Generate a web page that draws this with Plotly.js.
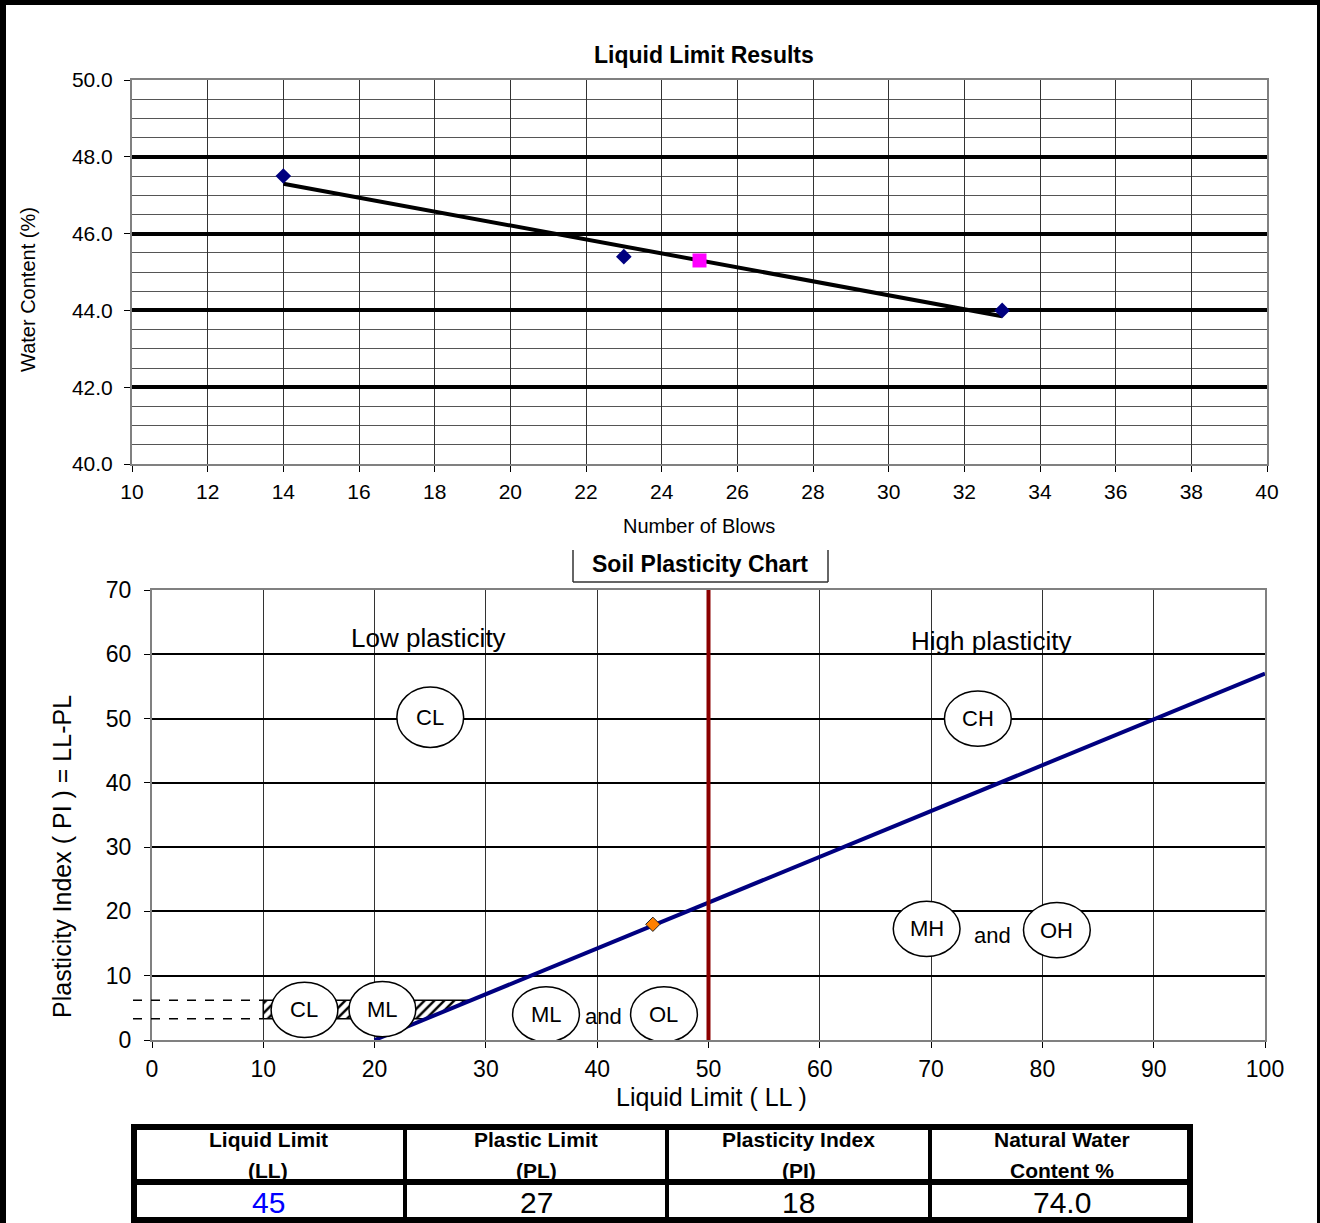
<!DOCTYPE html>
<html>
<head>
<meta charset="utf-8">
<script src="https://cdn.plot.ly/plotly-3.0.1.min.js"></script>
<style>
html,body{margin:0;padding:0;background:#fff;}
#chart{width:1320px;height:1223px;}
</style>
</head>
<body>
<div id="chart"></div>
<script>
// ---------- DATA ----------
// Liquid limit test (top chart)
const blows = [14, 23, 33];
const waterContent = [47.5, 45.4, 44.0];
const fitBlows = [14, 33];
const fitWater = [47.3, 43.85];
const blows25 = [25];
const water25 = [45.3];

// Plasticity chart (bottom chart)
const aLineLL = [20, 100];
const aLinePI = [0, 57];
const dividerLL = [50, 50];
const dividerPI = [0, 70];
const sampleLL = [45];
const samplePI = [18];
const hatchLL = [10, 10, 28.7, 24.6, 10];
const hatchPI = [3.3, 6.2, 6.2, 3.3, 3.3];
const dashPI = [3.3, 6.2];

const zoneLabels = ['CL', 'CH', 'MH', 'OH', 'ML', 'OL', 'CL', 'ML'];
const zoneLL = [25, 74.2, 69.6, 81.3, 35.4, 46.0, 13.7, 20.7];
const zonePI = [50.2, 50, 17.3, 17.1, 4.0, 4.0, 4.7, 4.8];
const andLL = [75.5, 40.6];
const andPI = [16.3, 3.7];
const regionLabels = ['Low plasticity', 'High plasticity'];
const regionLL = [24.8, 75.4];
const regionPI = [62.5, 62];

// Summary table
const tableHead1 = ['Liquid Limit', 'Plastic Limit', 'Plasticity Index', 'Natural Water'];
const tableHead2 = ['(LL)', '(PL)', '(PI)', 'Content %'];
const tableValues = ['45', '27', '18', '74.0'];

// ---------- LAYOUT HELPERS ----------
const W = 1320, H = 1223;
const fx = px => px / W;
const fy = py => 1 - py / H;
const FONT = 'Liberation Sans, Arial, sans-serif';

const traces = [
  {x: fitBlows, y: fitWater, xaxis: 'x', yaxis: 'y', mode: 'lines',
   line: {color: '#000', width: 4}, hoverinfo: 'skip'},
  {x: blows, y: waterContent, xaxis: 'x', yaxis: 'y', mode: 'markers',
   marker: {symbol: 'diamond', size: 12, color: '#000080'}},
  {x: blows25, y: water25, xaxis: 'x', yaxis: 'y', mode: 'markers',
   marker: {symbol: 'square', size: 14, color: '#FF00FF'}},
  {x: hatchLL, y: hatchPI, xaxis: 'x2', yaxis: 'y2', mode: 'lines', fill: 'toself',
   fillcolor: '#fff',
   fillpattern: {shape: '/', fgcolor: '#000', bgcolor: '#fff', size: 7, solidity: 0.35},
   line: {color: '#000', width: 1.5}, hoverinfo: 'skip'},
  {x: aLineLL, y: aLinePI, xaxis: 'x2', yaxis: 'y2', mode: 'lines',
   line: {color: '#000080', width: 4}},
  {x: dividerLL, y: dividerPI, xaxis: 'x2', yaxis: 'y2', mode: 'lines',
   line: {color: '#8B0000', width: 4}},
  {x: sampleLL, y: samplePI, xaxis: 'x2', yaxis: 'y2', mode: 'markers',
   marker: {symbol: 'diamond', size: 11, color: '#FF8000', line: {color: '#222', width: 1}}}
];

const shapes = [];
const annotations = [];
function note(o) {
  annotations.push(Object.assign({showarrow: false, xanchor: 'center', yanchor: 'middle'}, o));
}

// outer frame
shapes.push({type: 'rect', xref: 'paper', yref: 'paper', x0: 0, x1: 1, y0: fy(5), y1: fy(0), fillcolor: '#000', line: {width: 0}});
shapes.push({type: 'rect', xref: 'paper', yref: 'paper', x0: 0, x1: fx(6), y0: 0, y1: 1, fillcolor: '#000', line: {width: 0}});
shapes.push({type: 'rect', xref: 'paper', yref: 'paper', x0: fx(1317), x1: 1, y0: 0, y1: 1, fillcolor: '#000', line: {width: 0}});

// dashed guide lines (extend left of the axis)
dashPI.forEach(p => {
  shapes.push({type: 'line', xref: 'paper', yref: 'y2', x0: fx(133), x1: fx(263), y0: p, y1: p,
    line: {color: '#000', width: 1.5, dash: 'dash'}});
});

// zone ellipses + labels
zoneLabels.forEach((t, i) => {
  const ry = i === 0 ? 4.7 : 4.3;
  shapes.push({type: 'circle', xref: 'x2', yref: 'y2', layer: 'above',
    x0: zoneLL[i] - 3.0, x1: zoneLL[i] + 3.0, y0: zonePI[i] - ry, y1: zonePI[i] + ry,
    fillcolor: '#fff', line: {color: '#000', width: 1.5}});
  note({xref: 'x2', yref: 'y2', x: zoneLL[i], y: zonePI[i], text: t,
    font: {family: FONT, size: 22, color: '#000'}});
});
andLL.forEach((v, i) => note({xref: 'x2', yref: 'y2', x: v, y: andPI[i], text: 'and',
  font: {family: FONT, size: 22, color: '#000'}}));
regionLabels.forEach((t, i) => note({xref: 'x2', yref: 'y2', x: regionLL[i], y: regionPI[i],
  text: t, font: {family: FONT, size: 26, color: '#000'}}));

// titles
note({xref: 'paper', yref: 'paper', x: fx(704), y: fy(55), text: '<b>Liquid Limit Results</b>',
  font: {family: FONT, size: 23, color: '#000'}});
note({xref: 'paper', yref: 'paper', x: fx(700), y: fy(564), text: '<b>Soil Plasticity Chart</b>',
  font: {family: FONT, size: 23, color: '#000'}});
[[573, 550, 573, 582], [828, 550, 828, 582], [573, 582, 828, 582]].forEach(s => {
  shapes.push({type: 'line', xref: 'paper', yref: 'paper', x0: fx(s[0]), y0: fy(s[1]), x1: fx(s[2]), y1: fy(s[3]),
    line: {color: '#333', width: 1.5}});
});

// axis titles
note({xref: 'paper', yref: 'paper', x: fx(28), y: fy(290), text: 'Water Content (%)', textangle: -90,
  font: {family: FONT, size: 20, color: '#000'}});
note({xref: 'paper', yref: 'paper', x: fx(699), y: fy(526), text: 'Number of Blows',
  font: {family: FONT, size: 20, color: '#000'}});
note({xref: 'paper', yref: 'paper', x: fx(62), y: fy(857), text: 'Plasticity Index ( PI ) = LL-PL', textangle: -90,
  font: {family: FONT, size: 25, color: '#000'}});
note({xref: 'paper', yref: 'paper', x: fx(711), y: fy(1097), text: 'Liquid Limit ( LL )',
  font: {family: FONT, size: 25, color: '#000'}});

// table
const colX = [131, 405, 667, 930, 1193];
[[1124, 1130], [1179, 1185], [1217, 1223]].forEach(r => {
  shapes.push({type: 'rect', xref: 'paper', yref: 'paper', x0: fx(131), x1: fx(1193), y0: fy(r[1]), y1: fy(r[0]),
    fillcolor: '#000', line: {width: 0}});
});
[[131, 137], [403, 407], [665, 669], [928, 932], [1187, 1193]].forEach(c => {
  shapes.push({type: 'rect', xref: 'paper', yref: 'paper', x0: fx(c[0]), x1: fx(c[1]), y0: fy(1223), y1: fy(1124),
    fillcolor: '#000', line: {width: 0}});
});
tableValues.forEach((v, i) => {
  const cx = fx((colX[i] + colX[i + 1]) / 2);
  note({xref: 'paper', yref: 'paper', x: cx, y: fy(1139), text: '<b>' + tableHead1[i] + '</b>',
    font: {family: FONT, size: 21, color: '#000'}});
  note({xref: 'paper', yref: 'paper', x: cx, y: fy(1170), text: '<b>' + tableHead2[i] + '</b>',
    font: {family: FONT, size: 21, color: '#000'}});
  note({xref: 'paper', yref: 'paper', x: cx, y: fy(1202), text: v,
    font: {family: FONT, size: 30, color: i === 0 ? '#0000FF' : '#000'}});
});

const layout = {
  width: W, height: H,
  margin: {l: 0, r: 0, t: 0, b: 0},
  paper_bgcolor: '#fff', plot_bgcolor: '#fff',
  showlegend: false,
  font: {family: FONT, color: '#000'},
  xaxis: {domain: [fx(132), fx(1267)], range: [10, 40], dtick: 2, tick0: 10,
    showgrid: true, gridcolor: '#333', gridwidth: 1, zeroline: false,
    showline: true, linecolor: '#808080', linewidth: 2, mirror: true,
    ticks: 'outside', ticklen: 6, tickcolor: '#000', ticklabelstandoff: 2,
    tickfont: {size: 21, family: FONT}, anchor: 'y'},
  yaxis: {domain: [fy(464), fy(80)], range: [40, 50], dtick: 2, tick0: 40, tickformat: '.1f',
    showgrid: true, gridcolor: '#000', gridwidth: 4, zeroline: false,
    minor: {dtick: 0.5, showgrid: true, gridcolor: '#555', gridwidth: 1},
    showline: true, linecolor: '#808080', linewidth: 2, mirror: true,
    ticks: 'outside', ticklen: 6, tickcolor: '#000', ticklabelstandoff: 7,
    tickfont: {size: 21, family: FONT}, anchor: 'x'},
  xaxis2: {domain: [fx(152), fx(1265)], range: [0, 100], dtick: 10, tick0: 0,
    showgrid: true, gridcolor: '#333', gridwidth: 1, zeroline: false,
    showline: true, linecolor: '#808080', linewidth: 2, mirror: true,
    ticks: 'outside', ticklen: 6, tickcolor: '#000', ticklabelstandoff: 1,
    tickfont: {size: 23, family: FONT}, anchor: 'y2'},
  yaxis2: {domain: [fy(1040), fy(590)], range: [0, 70], dtick: 10, tick0: 0,
    showgrid: true, gridcolor: '#000', gridwidth: 2, zeroline: false,
    showline: true, linecolor: '#808080', linewidth: 2, mirror: true,
    ticks: 'outside', ticklen: 6, tickcolor: '#000', ticklabelstandoff: 8,
    tickfont: {size: 23, family: FONT}, anchor: 'x2'},
  shapes: shapes,
  annotations: annotations
};

Plotly.newPlot('chart', traces, layout, {displayModeBar: false, staticPlot: true});
</script>
</body>
</html>
